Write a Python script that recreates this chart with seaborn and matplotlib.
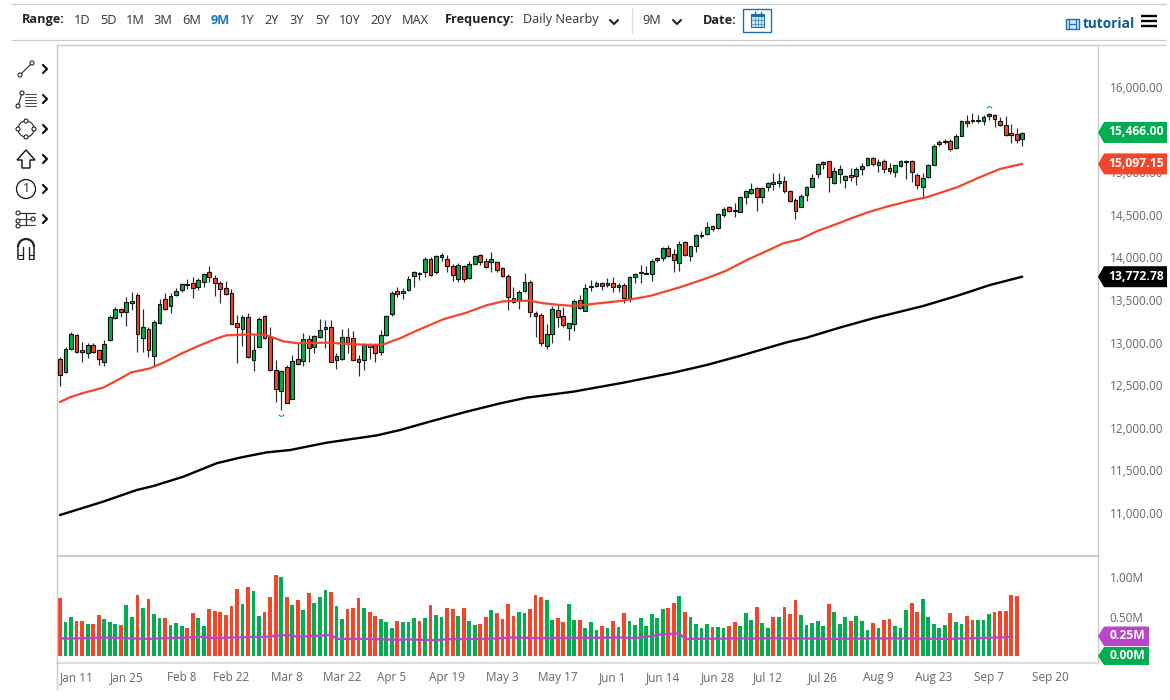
import numpy as np
import pandas as pd
import seaborn as sns
import matplotlib
matplotlib.use('Agg')
import matplotlib.pyplot as plt
import matplotlib.path as mpath
from matplotlib.patches import Circle, Polygon, Rectangle, Arc

# daily candles
opens = [12803,12658,12920,13092,12912,12881,12975,12909,12772,13026,13284,13390,13362,13460,13554,13049,13159,12846,13229,13507,
 13429,13554,13621,13687,13695,13656,13707,13828,13758,13695,13636,13586,13226,13163,13304,12799,12952,13312,13065,12682,
 12427,12713,12341,12811,12787,13046,12952,13069,13155,13187,12791,12803,13065,13050,12803,12795,12979,12971,12893,13093,
 13335,13601,13578,13617,13785,13821,13824,13977,13824,14001,13985,13899,13742,13895,13754,13918,14024,13954,13950,13946,
 13875,13785,13523,13484,13609,13715,13343,13320,12964,13097,13379,13308,13175,13218,13496,13375,13649,13668,13699,13680,
 13696,13649,13680,13527,13770,13813,13809,13809,13973,13989,14106,14036,13938,14177,14016,14134,14255,14271,14365,14345,
 14502,14588,14556,14537,14705,14760,14811,14705,14822,14881,14869,14893,14776,14674,14588,14728,14830,14975,15096,15128,
 14869,14983,14905,14971,14959,15034,15081,15167,15088,15128,15045,15002,15077,15120,15132,14971,14830,14940,15088,15327,
 15355,15366,15280,15429,15605,15609,15601,15597,15656,15672,15605,15558,15456,15445,15390]
highs = [12834,12944,13128,13100,13010,12999,12991,12928,13030,13323,13421,13409,13539,13589,13578,13390,13186,13265,13507,13578,
 13578,13636,13695,13742,13766,13754,13820,13899,13793,13726,13719,13625,13323,13323,13351,13089,13304,13323,13186,12795,
 12678,12736,12854,12991,13116,13089,13089,13277,13265,13265,12874,13155,13167,13140,12854,12991,12999,12983,13147,13324,
 13605,13656,13644,13781,13844,13832,14001,14008,14032,14047,14028,13922,13930,13910,13961,14032,14040,13989,14059,13961,
 13891,13801,13656,13617,13813,13734,13370,13343,13218,13433,13441,13422,13234,13508,13559,13688,13735,13719,13715,13754,
 13766,13703,13696,13782,13821,13911,13899,13977,14001,14126,14146,14095,14196,14196,14134,14271,14310,14419,14380,14525,
 14588,14603,14635,14721,14791,14877,14822,14830,14885,14987,14987,14956,14791,14693,14741,14838,14979,15112,15132,15135,
 15065,15081,14967,15045,15057,15104,15175,15182,15151,15151,15112,15088,15143,15143,15143,14987,14987,15096,15331,15378,
 15390,15386,15445,15613,15671,15691,15668,15668,15699,15683,15652,15660,15566,15515,15476]
lows = [12490,12646,12912,12873,12772,12822,12881,12740,12729,13018,13272,13304,13194,13382,12885,12893,12834,12725,13218,13382,
 13343,13546,13597,13625,13519,13617,13648,13711,13546,13468,13558,13214,12764,12959,12815,12662,12952,13038,12670,12306,
 12208,12286,12333,12733,12725,12776,12874,13057,12932,12768,12686,12795,12874,12787,12611,12678,12807,12776,12854,13081,
 13312,13531,13515,13609,13656,13734,13766,13781,13801,13961,13824,13727,13707,13715,13742,13910,13910,13871,13824,13832,
 13774,13382,13461,13390,13597,13304,13069,12960,12921,12991,13187,13187,13030,13140,13394,13367,13609,13656,13617,13656,
 13594,13594,13469,13473,13696,13696,13805,13727,13950,13962,14001,13833,13844,14016,13962,14067,14232,14263,14314,14337,
 14478,14529,14478,14529,14627,14744,14545,14643,14783,14791,14830,14752,14654,14447,14588,14666,14822,14936,15042,14772,
 14862,14869,14815,14901,14850,14967,15073,15073,15006,14995,14979,14948,15057,14916,14889,14799,14705,14928,15081,15308,
 15331,15253,15269,15425,15527,15582,15574,15550,15613,15535,15546,15429,15347,15347,15312]
closes = [12615,12928,13100,12893,12885,12971,12893,12803,12987,13296,13398,13359,13472,13484,13104,13186,12909,13237,13449,13390,
 13546,13601,13683,13679,13640,13730,13805,13766,13695,13629,13574,13222,13186,13304,12826,12909,13280,13049,12678,12451,
 12662,12290,12787,12744,13046,12932,13077,13144,13187,12776,12842,13069,12999,12791,12768,12967,12944,12874,13089,13312,
 13586,13570,13605,13746,13828,13809,13977,13797,14012,14028,13895,13789,13914,13746,13926,14016,13950,13891,13977,13848,
 13785,13531,13476,13597,13711,13355,13312,13000,13097,13390,13300,13210,13234,13484,13402,13637,13660,13699,13668,13696,
 13649,13676,13523,13766,13805,13825,13817,13962,13993,14114,14016,13969,14157,14032,14130,14259,14267,14353,14337,14513,
 14564,14545,14549,14713,14776,14803,14713,14811,14869,14866,14893,14783,14666,14541,14721,14826,14928,15096,15120,14948,
 15010,15038,14955,14948,15042,15073,15163,15092,15124,15042,15018,15081,15128,15136,14998,14846,14928,15085,15304,15355,
 15366,15269,15429,15597,15582,15601,15609,15652,15679,15621,15558,15441,15437,15378,15464]

ma50_at = [0,1.8,4.2,7.8,10.2,12.9,16.3,18.7,22.3,25.3,28.3,30.1,34.4,37.4,40.4,43.1,48.2,52.4,56,58.5,61.5,64.5,69.3,73.5,77.1,
 80.1,84.9,87.4,89.8,92.8,95.8,101.9,106.7,112.1,116.9,120.5,124.2,127.8,130.8,133.8,137,141,142.6,145.9,149.5,154.3,156.7,162.2,166.3,170,174]
ma50 = [12302,12357,12408,12470,12552,12650,12697,12764,12881,12967,13046,13085,13096,13085,13014,12991,12999,12983,12971,12979,13050,13140,13273,13351,13437,
 13484,13492,13461,13445,13430,13449,13492,13547,13649,13754,13844,13969,14075,14165,14212,14310,14405,14447,14525,14595,14674,14705,14822,14940,15038,15097]
ma200_at = [0,7.8,13.9,16.9,22.3,28.3,32.5,37.4,41.6,48.2,57.3,61.5,67.5,73.5,79.6,84.4,88.6,92.8,101.9,110.9,116.9,122.9,131.4,135,141,147,156.1,162.1,168.2,174]
ma200 = [10975,11132,11269,11316,11425,11582,11648,11711,11738,11824,11910,11973,12083,12188,12286,12353,12388,12423,12529,12646,12736,12842,13002,13057,13175,13284,13429,13546,13676,13773]

# volume in millions
volume = [.739,.429,.5,.445,.449,.407,.412,.525,.475,.429,.412,.399,.651,.491,.769,.613,.722,.538,.479,.487,.399,.424,.386,.361,.542,.483,.386,.592,.571,.563,.525,.634,.857,.664,.878,.827,.504,.554,.743,1.033,1.008,.743,.643,.714,.588,.794,.668,.752,.84,.815,.63,.466,.592,.613,.731,.609,.563,.504,.466,.429,.353,.449,
 .429,.429,.487,.445,.479,.651,.517,.491,.605,.592,.504,.613,.441,.395,.403,.491,.584,.546,.466,.655,.512,.554,.542,.592,.773,.748,.714,.462,.479,.433,.655,.458,.454,.361,.429,.336,.382,.361,.441,.365,.546,.441,.395,.479,.378,.538,.479,.592,.613,.676,.756,.563,.491,.412,.361,.403,.37,.365,.353,.378,.429,.386,.546,.462,.617,.416,.357,.496,.491,.622,.529,.706,.517,.399,.416,.441,.382,.659,.563,.403,.496,.441,.508,.441,.336,.416,.353,.462,.47,.378,.357,.58,.676,.554,.718,.496,.403,.357,.395,.55,.433,.412,.512,.458,.458,.458,.538,.563,.567,.567,.773,.756]
volume_ma = [.223,.223,.223,.223,.225,.228,.230,.232,.235,.233,.230,.227,.225,.223,.220,.218,.218,.220,.223,.227,.228,.230,.232,.235,.240,.244,.240,.232,.227,.229,.231,.235,.236,.237,.240,.244,.241,.240,.248,.256,.262,.269,.256,.244,.248,.252,.255,.258,.262,.269,
 .218,.218,.218,.218,.218,.218,.216,.214,.212,.210,.208,.206,.210,.210,.208,.207,.205,.204,.202,.208,.213,.214,.215,.216,.216,.217,.217,.218,.221,.224,.228,.231,.235,.233,.231,.229,.227,.227,.227,.228,.228,.228,.229,.229,.229,.231,.231,.231,.232,.233,.234,.235,.232,.230,.227,.235,.244,.252,.265,.277,.281,.284,.286,
 .218,.218,.218,.220,.220,.221,.221,.221,.223,.223,.223,.223,.223,.223,.223,.225,.225,.225,.223,.223,.223,.223,.223,.221,.221,.221,.218,.218,.218,.218,.221,.221,.221,.223,.223,.223,.223,.223,.223,.223,.223,.221,.221,.221,.221,.218,.218,.218,.218,.221,.223,.223,.225,.227,.229,.231,.233,.235,.238,.244]

tick_at = [3,12,22,31,41,51,60,70,80,90,100,109,119,128,138,148,158,168,179]
tick_labels = ['Jan 11','Jan 25','Feb 8','Feb 22','Mar 8','Mar 22','Apr 5','Apr 19','May 3','May 17',
               'Jun 1','Jun 14','Jun 28','Jul 12','Jul 26','Aug 9','Aug 23','Sep 7','Sep 20']
# 15,500 sits fully behind the green price flag in the page, so it gets no label
price_ticks = [11000,11500,12000,12500,13000,13500,14000,14500,15000,16000]
volume_ticks = [0.5,1.0]
last_price = 15466.00
last_ma50 = 15097.15
last_ma200 = 13772.78
last_volume_ma = 0.25

range_buttons = ['1D','5D','1M','3M','6M','9M','1Y','2Y','3Y','5Y','10Y','20Y','MAX']
range_centers = [82,108,135,163,192,220,247,272,297,322,350,381,415]

GREEN = '#00ad4f'
RED = '#f4452a'
PURPLE = '#b945c9'
GRID = '#cccccc'
TEXT = '#666666'

sns.set_theme(style='white')
plt.rcParams['font.family'] = ['Open Sans', 'DejaVu Sans']

fig = plt.figure(figsize=(11.7, 7), dpi=100, facecolor='white')
W, H = 1170, 700
ax = fig.add_axes([57/W, 1-556/H, (1098-57)/W, (556-45)/H])
vax = fig.add_axes([57/W, 1-663/H, (1098-57)/W, (663-556)/H])

df = pd.DataFrame({'open': opens, 'high': highs, 'low': lows, 'close': closes})
df['n'] = df.index
df['up'] = df['close'] >= df['open']

# candles
ax.vlines(df['n'], df['low'], df['high'], color='#2b2b2b', lw=0.85, zorder=2)
body = (df['close'] - df['open']).abs().clip(lower=12)
ax.bar(df['n'], body, bottom=df[['open', 'close']].min(axis=1), width=0.68,
       color=[GREEN if u else RED for u in df['up']], edgecolor='#111111', lw=0.8, zorder=3)

# moving averages
sns.lineplot(x=ma50_at, y=ma50, ax=ax, color=RED, lw=1.6, sort=False, estimator=None, zorder=4)
sns.lineplot(x=ma200_at, y=ma200, ax=ax, color='black', lw=1.7, sort=False, estimator=None, zorder=4)

# little high/low markers
arc_top = mpath.Path.arc(25, 155)
arc_bottom = mpath.Path.arc(205, 335)
ax.plot([168], [15745], marker=arc_top, ms=4, mfc='none', mec=GREEN, mew=0.8, ls='none')
ax.plot([40], [12175], marker=arc_bottom, ms=4, mfc='none', mec=GREEN, mew=0.8, ls='none')

ax.set_xlim(-0.54, 187.7)
ax.set_ylim(10494, 16493)
ax.set_xticks([])
ax.set_yticks(price_ticks)
ax.set_yticklabels([f'{v:,.2f}' for v in price_ticks], color=TEXT, fontsize=8.5)
ax.yaxis.tick_right()
ax.tick_params(axis='y', length=0, pad=8.5)
ax.set_xlabel('')
ax.set_ylabel('')

# volume
vol = pd.DataFrame({'n': np.arange(len(volume)), 'volume': volume})
vol['side'] = ['up' if u else 'down' for u in df['up'][:len(volume)]]
sns.barplot(data=vol, x='n', y='volume', hue='side', palette={'up': GREEN, 'down': RED},
            native_scale=True, dodge=False, width=0.68, legend=False, ax=vax, saturation=1,
            edgecolor='none', zorder=2)
sns.lineplot(x=np.arange(len(volume_ma)), y=volume_ma, ax=vax, color=PURPLE, lw=1.7, sort=False,
             estimator=None, zorder=4)
vax.set_xlim(-0.54, 187.7)
vax.set_ylim(-0.089, 1.27)
vax.set_xticks(tick_at)
vax.set_xticklabels(tick_labels, color=TEXT, fontsize=8.5)
vax.tick_params(axis='x', length=3.6, width=0.8, color='#d8d8d8', pad=2)
vax.set_yticks(volume_ticks)
vax.set_yticklabels(['0.50M', '1.00M'], color=TEXT, fontsize=8.5)
vax.yaxis.tick_right()
vax.tick_params(axis='y', length=0, pad=8.5)
vax.set_xlabel('')
vax.set_ylabel('')

for a in (ax, vax):
    for s in a.spines.values():
        s.set_color(GRID)
        s.set_linewidth(1)
ax.spines['bottom'].set_visible(False)
vax.spines['top'].set_linewidth(1.5)
vax.spines['bottom'].set_color('#dddddd')
vax.spines['bottom'].set_linewidth(1.6)

# page furniture in pixel coordinates
ui = fig.add_axes([0, 0, 1, 1], zorder=10)
ui.set_xlim(0, W)
ui.set_ylim(H, 0)
ui.axis('off')
ui.patch.set_alpha(0)


def hline(x0, x1, y, color=GRID, lw=0.9):
    ui.plot([x0, x1], [y, y], color=color, lw=lw, solid_capstyle='butt')


def chevron_down(x, y):
    ui.plot([x-4, x, x+4], [y-2, y+2, y-2], color='#222222', lw=1.5)


def chevron_right(x, y):
    ui.plot([x-2, x+2, x-2], [y-4, y, y+4], color='#111111', lw=1.6)


def dot(x, y, r=2):
    ui.add_patch(Circle((x, y), r, fc='white', ec='#222222', lw=0.8, zorder=5))


def tag(ax_from, value, right, text, color, half):
    # flag on the value axis, placed from the value itself
    y = H - ax_from.transData.transform((0, value))[1]
    ui.add_patch(Polygon([(1098, y), (1104, y-half), (right, y-half), (right, y+half), (1104, y+half)],
                         closed=True, fc=color, ec='none', zorder=6))
    ui.text((1104+right)/2 + 0.5, y-0.5, text, color='white', fontsize=8.7, fontweight='bold',
            ha='center', va='center', zorder=7)


hline(11, 1166, 4)
hline(11, 1166, 40)
hline(57, 1166, 45)
ui.plot([57, 57], [663, 690], color=GRID, lw=1)

ui.text(22, 20, 'Range:', fontsize=9.2, fontweight='bold', color='#222222', va='center')
for label, cx in zip(range_buttons, range_centers):
    active = label == '9M'
    ui.text(cx, 20, label, fontsize=9.2, ha='center', va='center',
            color='#1a76c8' if active else '#333333', fontweight='bold' if active else 'normal')
ui.text(445, 20, 'Frequency:', fontsize=9.1, fontweight='bold', color='#222222', va='center')
ui.text(523, 20, 'Daily Nearby', fontsize=9.1, color='#333333', va='center')
chevron_down(614, 22)
ui.plot([632, 632], [8, 33], color='#dddddd', lw=0.9)
ui.text(652, 20, '9M', fontsize=9.2, color='#333333', va='center', ha='center')
chevron_down(677, 22)
ui.text(703, 20, 'Date:', fontsize=9.2, fontweight='bold', color='#222222', va='center')

# calendar button
ui.add_patch(Rectangle((743, 9), 28, 23, fc='white', ec='#1a6fb0', lw=1))
ui.add_patch(Rectangle((751, 14), 13, 13, fc='#cfe3f3', ec='#1a6fb0', lw=0.8))
ui.add_patch(Rectangle((751, 14), 13, 3, fc='#1a6fb0', ec='none'))
for gx in (754.5, 757.5, 761):
    ui.plot([gx, gx], [17, 27], color='#1a6fb0', lw=0.4)
for gy in (20, 23.5):
    ui.plot([751, 764], [gy, gy], color='#1a6fb0', lw=0.4)
for gx in (754.5, 760.5):
    ui.plot([gx, gx], [12, 15], color='#1a6fb0', lw=1)

# tutorial link and menu
ui.add_patch(Rectangle((1066, 19), 13, 10, fc='#cfe3f3', ec='#1c6fb5', lw=1))
for gx in (1069, 1076):
    ui.plot([gx, gx], [19, 29], color='#1c6fb5', lw=0.8)
ui.plot([1069, 1076], [24, 24], color='#1c6fb5', lw=0.8)
ui.text(1083, 24.5, 'tutorial', fontsize=9.8, fontweight='bold', color='#0b5c9e', va='center')
for gy in (16, 21, 26):
    hline(1141, 1157, gy, color='black', lw=1.7)

# drawing tools
for cy in (69, 99, 129, 159, 189, 219):
    chevron_right(45, cy)
# trend line
ui.plot([20, 32], [75, 63], color='#222222', lw=0.8)
dot(20, 75); dot(32, 63)
# fib
ui.plot([18, 22], [106, 93], color='#222222', lw=0.8)
dot(22, 93); dot(18, 106)
for gy in (94, 97, 100, 103, 106):
    ui.plot([25, 36], [gy, gy], color='#444444', lw=0.7)
# shape
ui.add_patch(Circle((26, 129), 8, fc='none', ec='#222222', lw=0.8))
for dx, dy in ((0, -8), (0, 8), (-8, 0), (8, 0)):
    dot(26+dx, 129+dy, 2)
# arrow
ui.add_patch(Polygon([(26, 150), (17, 160), (22, 160), (22, 168), (30, 168), (30, 160), (35, 160)],
                     closed=True, fc='white', ec='#111111', lw=1))
# counter
ui.add_patch(Circle((26, 189), 9.5, fc='none', ec='#111111', lw=0.9))
ui.text(26, 189, '1', fontsize=9, color='#222222', ha='center', va='center')
# measure
ui.plot([17, 35], [213, 213], color='#222222', lw=0.8)
ui.plot([17, 35], [225, 225], color='#444444', lw=0.8)
ui.plot([26, 26], [213, 225], color='#222222', lw=0.9)
hline(17, 35, 219, color='#444444', lw=0.8)
dot(18, 213); dot(18, 221); dot(18, 226); dot(33, 219)
# magnet
ui.add_patch(Arc((26, 247), 16, 16, theta1=180, theta2=360, ec='#222222', lw=1.6))
ui.plot([18, 18], [247, 259], color='#222222', lw=1.1)
ui.plot([34, 34], [247, 259], color='#222222', lw=1.1)
ui.plot([23, 23], [247, 259], color='#222222', lw=1)
ui.plot([29, 29], [247, 259], color='#222222', lw=1)
hline(18, 23, 255, color='#222222', lw=0.8)
hline(29, 34, 255, color='#222222', lw=0.8)
hline(18, 23, 259, color='#222222', lw=0.8)
hline(29, 34, 259, color='#222222', lw=0.8)

# value flags
tag(ax, last_price, 1167, f'{last_price:,.2f}', GREEN, 10.5)
tag(ax, last_ma50, 1167, f'{last_ma50:,.2f}', RED, 10.5)
tag(ax, last_ma200, 1167, f'{last_ma200:,.2f}', 'black', 10.5)
tag(vax, last_volume_ma, 1149, f'{last_volume_ma:.2f}M', PURPLE, 9.8)
tag(vax, 0.0, 1149, '0.00M', GREEN, 9)

fig.savefig('out.png', dpi=100, facecolor='white')
